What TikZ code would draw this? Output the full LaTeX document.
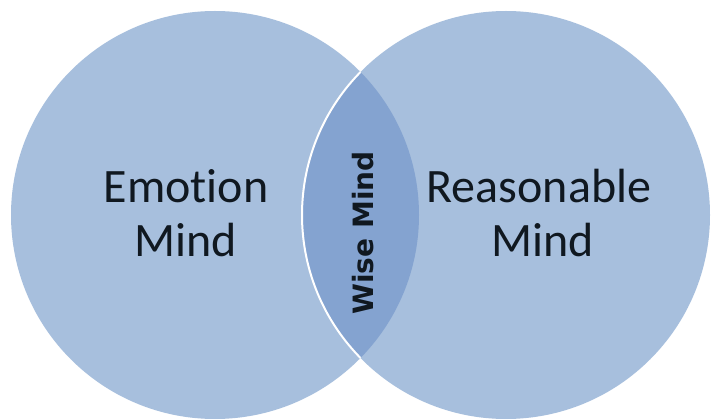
\documentclass[tikz,border=0pt]{standalone}
\usepackage{fontspec}
\setmainfont[Ligatures={NoCommon}]{Carlito}
\newfontfamily\wisefont{DejaVu Sans}
\definecolor{circfill}{HTML}{A7BFDD}
\definecolor{lensfill}{HTML}{84A3D0}
\definecolor{txt}{HTML}{101820}
\begin{document}
\begin{tikzpicture}[x=1pt,y=1pt,
  circ/.style={fill=circfill,draw=none},
  bigtxt/.style={font=\fontsize{48}{54}\selectfont,text=txt,anchor=base,inner sep=0pt},
  wisetxt/.style={font=\wisefont\bfseries\fontsize{28}{32}\selectfont,text=txt,anchor=base,rotate=90,inner sep=0pt}]
\fill[white] (0,0) rectangle (712,418);
\useasboundingbox (0,0) rectangle (712,418);
\coordinate (cl) at (215,203);
\coordinate (cr) at (506,203);
\fill[circ] (cl) circle (204);
\fill[circ] (cr) circle (204);
\begin{scope}
  \clip (cl) circle (204);
  \fill[lensfill] (cr) circle (204);
  \draw[white,line width=2pt] (cr) circle (204);
\end{scope}
\node[bigtxt] (emo1) at (186,215) {Emot\kern0pt ion};
\node[bigtxt] (emo2) at (186,161) {Mind};
\node[bigtxt] (rea1) at (539,215) {Reasonable};
\node[bigtxt] (rea2) at (543,161) {Mind};
\node[wisetxt] (wise) at (373,185) {Wise Mind};
\end{tikzpicture}
\end{document}
